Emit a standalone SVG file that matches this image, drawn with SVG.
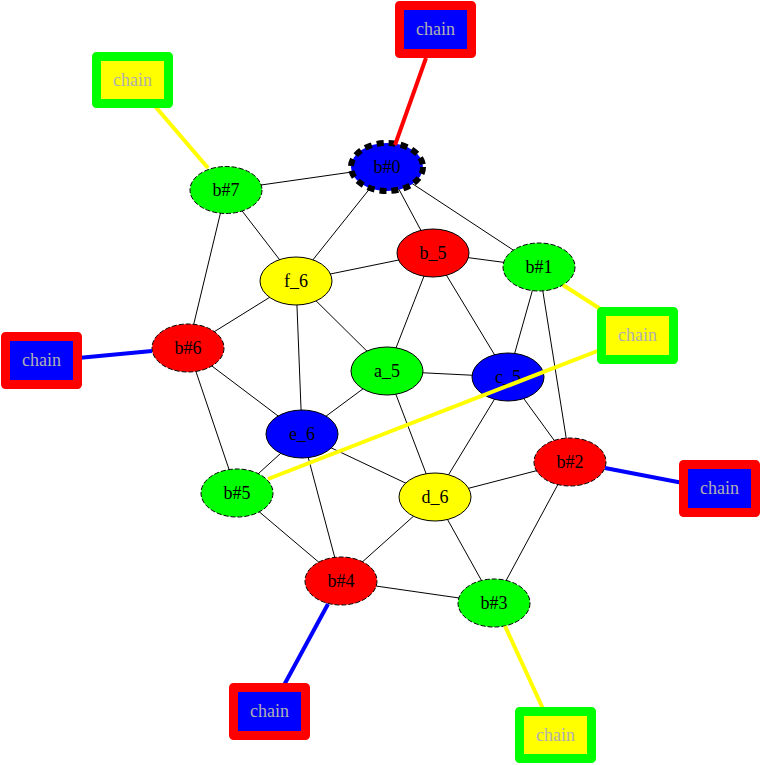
<svg xmlns="http://www.w3.org/2000/svg" width="761" height="765" viewBox="0 0 761 765">
<style>
.e{stroke:#000;stroke-width:1;fill:none}
.n{stroke:#000;stroke-width:1}
.d{stroke-dasharray:5,2}
.t{font-family:"Liberation Serif","Times New Roman",serif;font-size:18px;text-anchor:middle;fill:#000}
.ct{font-family:"Liberation Serif","Times New Roman",serif;font-size:18px;text-anchor:middle;fill:#b0b0b0}
.cr{stroke-width:9;stroke-linejoin:round}
.ce{stroke-width:4;fill:none}
</style>
<rect width="761" height="765" fill="#fff"/>
<g id="edges">
<line class="e" x1="226" y1="190" x2="387" y2="167"/>
<line class="e" x1="226" y1="190" x2="296" y2="281"/>
<line class="e" x1="226" y1="190" x2="188" y2="348"/>
<line class="e" x1="387" y1="167" x2="296" y2="281"/>
<line class="e" x1="387" y1="167" x2="433" y2="253"/>
<line class="e" x1="387" y1="167" x2="539" y2="267"/>
<line class="e" x1="296" y1="281" x2="433" y2="253"/>
<line class="e" x1="296" y1="281" x2="188" y2="348"/>
<line class="e" x1="296" y1="281" x2="387" y2="371"/>
<line class="e" x1="296" y1="281" x2="302" y2="434"/>
<line class="e" x1="433" y1="253" x2="539" y2="267"/>
<line class="e" x1="433" y1="253" x2="387" y2="371"/>
<line class="e" x1="433" y1="253" x2="508" y2="377"/>
<line class="e" x1="539" y1="267" x2="508" y2="377"/>
<line class="e" x1="539" y1="267" x2="570" y2="462"/>
<line class="e" x1="188" y1="348" x2="302" y2="434"/>
<line class="e" x1="188" y1="348" x2="237" y2="493"/>
<line class="e" x1="387" y1="371" x2="508" y2="377"/>
<line class="e" x1="387" y1="371" x2="302" y2="434"/>
<line class="e" x1="387" y1="371" x2="435" y2="497"/>
<line class="e" x1="508" y1="377" x2="570" y2="462"/>
<line class="e" x1="508" y1="377" x2="435" y2="497"/>
<line class="e" x1="302" y1="434" x2="237" y2="493"/>
<line class="e" x1="302" y1="434" x2="435" y2="497"/>
<line class="e" x1="302" y1="434" x2="341" y2="581"/>
<line class="e" x1="237" y1="493" x2="341" y2="581"/>
<line class="e" x1="435" y1="497" x2="570" y2="462"/>
<line class="e" x1="435" y1="497" x2="341" y2="581"/>
<line class="e" x1="435" y1="497" x2="494" y2="603"/>
<line class="e" x1="570" y1="462" x2="494" y2="603"/>
<line class="e" x1="341" y1="581" x2="494" y2="603"/>
</g>
<g id="b0"><ellipse cx="387" cy="167" rx="36" ry="24" fill="#0000ff" stroke="#000" stroke-width="6" stroke-dasharray="7,5"/><text class="t" x="387" y="173">b#0</text></g>
<g id="b7"><ellipse class="n d" cx="226" cy="190" rx="36" ry="23.5" fill="#00ff00"/><text class="t" x="226" y="196">b#7</text></g>
<g id="f6"><ellipse class="n" cx="296" cy="281" rx="36" ry="24" fill="#ffff00"/><text class="t" x="296" y="287">f_6</text></g>
<g id="b5n"><ellipse class="n" cx="433" cy="253" rx="36" ry="24" fill="#ff0000"/><text class="t" x="433" y="259">b_5</text></g>
<g id="b1"><ellipse class="n d" cx="539" cy="267" rx="36" ry="24" fill="#00ff00"/><text class="t" x="539" y="273">b#1</text></g>
<g id="b6"><ellipse class="n d" cx="188" cy="348" rx="36" ry="24" fill="#ff0000"/><text class="t" x="188" y="354">b#6</text></g>
<g id="a5"><ellipse class="n" cx="387" cy="371" rx="36" ry="24" fill="#00ff00"/><text class="t" x="387" y="377">a_5</text></g>
<g id="c5"><ellipse class="n" cx="508" cy="377" rx="36" ry="24" fill="#0000ff"/><text class="t" x="508" y="383">c_5</text></g>
<g id="e6"><ellipse class="n" cx="302" cy="434" rx="36" ry="24" fill="#0000ff"/><text class="t" x="302" y="440">e_6</text></g>
<g id="b2"><ellipse class="n d" cx="570" cy="462" rx="36" ry="24" fill="#ff0000"/><text class="t" x="570" y="468">b#2</text></g>
<g id="b5"><ellipse class="n d" cx="237" cy="493" rx="36" ry="24" fill="#00ff00"/><text class="t" x="237" y="499">b#5</text></g>
<g id="d6"><ellipse class="n" cx="435" cy="497" rx="36" ry="24" fill="#ffff00"/><text class="t" x="435" y="503">d_6</text></g>
<g id="b4"><ellipse class="n d" cx="341" cy="581" rx="36" ry="24" fill="#ff0000"/><text class="t" x="341" y="587">b#4</text></g>
<g id="b3"><ellipse class="n d" cx="494" cy="603" rx="36" ry="24" fill="#00ff00"/><text class="t" x="494" y="609">b#3</text></g>
<g id="chain-edges">
<line class="ce" stroke="#ff0000" x1="426" y1="58" x2="395" y2="145"/>
<line class="ce" stroke="#ffff00" x1="154" y1="105" x2="208" y2="168"/>
<line class="ce" stroke="#0000ff" x1="78" y1="358" x2="152" y2="351"/>
<line class="ce" stroke="#ffff00" x1="563" y1="285" x2="602" y2="310"/>
<line class="ce" stroke="#ffff00" x1="600" y1="350" x2="268" y2="479"/>
<line class="ce" stroke="#0000ff" x1="605" y1="468" x2="683" y2="483"/>
<line class="ce" stroke="#0000ff" x1="328" y1="604" x2="283" y2="687"/>
<line class="ce" stroke="#ffff00" x1="505" y1="626" x2="544" y2="711"/>
</g>
<g id="chain0"><rect class="cr" x="399.5" y="5.5" width="72" height="48" fill="#0000ff" stroke="#ff0000"/><text class="ct" x="435.5" y="35">chain</text></g>
<g id="chain7"><rect class="cr" x="96.5" y="56.5" width="72" height="47" fill="#ffff00" stroke="#00ff00"/><text class="ct" x="132.5" y="86">chain</text></g>
<g id="chain6"><rect class="cr" x="5.5" y="336.5" width="72" height="48" fill="#0000ff" stroke="#ff0000"/><text class="ct" x="41.5" y="366">chain</text></g>
<g id="chain1"><rect class="cr" x="601.5" y="311.5" width="72" height="48" fill="#ffff00" stroke="#00ff00"/><text class="ct" x="637.5" y="341">chain</text></g>
<g id="chain2"><rect class="cr" x="683.5" y="464.5" width="72" height="48" fill="#0000ff" stroke="#ff0000"/><text class="ct" x="719.5" y="494">chain</text></g>
<g id="chain4"><rect class="cr" x="233.5" y="687.5" width="72" height="48" fill="#0000ff" stroke="#ff0000"/><text class="ct" x="269.5" y="717">chain</text></g>
<g id="chain3"><rect class="cr" x="519.5" y="711.5" width="72" height="47" fill="#ffff00" stroke="#00ff00"/><text class="ct" x="555.5" y="741">chain</text></g>
</svg>
